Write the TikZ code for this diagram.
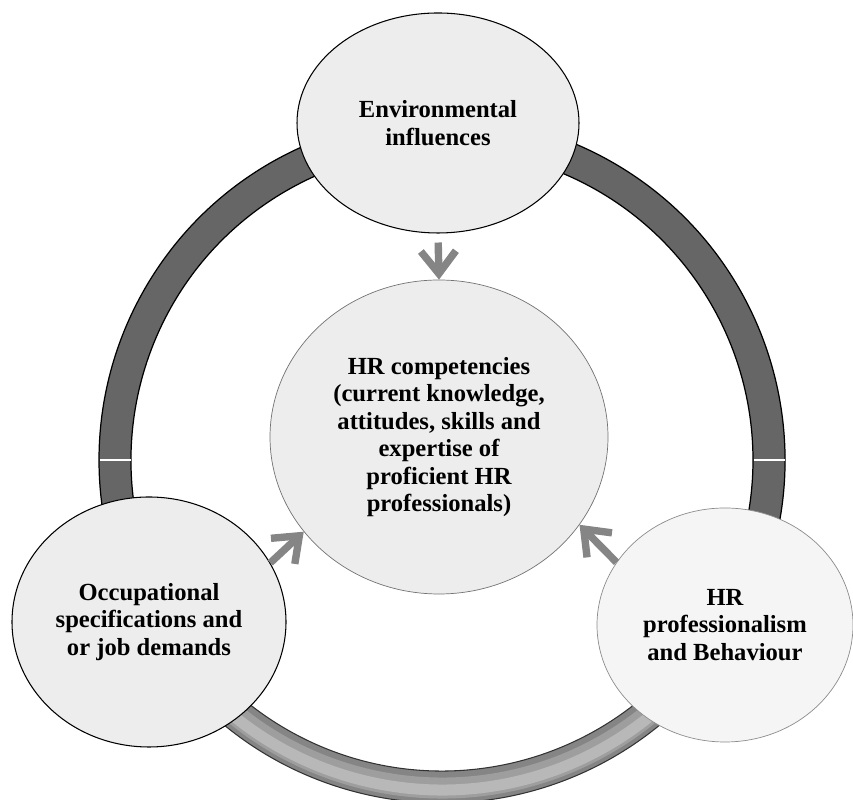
\documentclass[tikz,border=0pt]{standalone}
\usepackage{fontspec}
\setmainfont{Liberation Serif}
\usepackage{tikz}
\usetikzlibrary{
	arrows.meta,
	positioning,
	calc,
	shapes.geometric
}
\usepackage{xcolor}

\begin{document}
\begin{tikzpicture}[
		>=Stealth,
		bubble/.style={
			ellipse,
			draw=black,
			line width=0.6pt,
			fill=black!7,
			inner sep=0pt,
			align=center,
			font=\fontsize{14}{15.6}\selectfont\bfseries
		},
		ringdark/.style={
			fill=black!60,
			draw=black,
			line width=0.7pt
		},
		ringlight/.style={
			fill=black!48,
			draw=black!80,
			line width=0.6pt
		},
		arr/.style={
			-{Straight Barb[length=4.5mm,width=7mm]},
			line width=4.2pt,
			draw=black!48
		}
		]
		
		\useasboundingbox (0,0) rectangle (17.06,16);
		
		% Ring
		\coordinate (c) at (8.84,6.8);
		\path[ringdark] ([shift={(-30:6.86)}]c) arc[start angle=-30,end angle=210,radius=6.86]
		-- ([shift={(210:6.22)}]c) arc[start angle=210,end angle=-30,radius=6.22] -- cycle;
		\path[ringlight] ([shift={(210:6.86)}]c) arc[start angle=210,end angle=330,radius=6.86]
		-- ([shift={(330:6.22)}]c) arc[start angle=330,end angle=210,radius=6.22] -- cycle;
		\draw[black!38,line width=0.42cm] ([shift={(212:6.56)}]c) arc[start angle=212,end angle=328,radius=6.56];
		\draw[black!28,line width=0.22cm] ([shift={(212:6.6)}]c) arc[start angle=212,end angle=328,radius=6.6];
		\draw[white,line width=0.8pt] ([shift={(180:6.23)}]c) -- ([shift={(180:6.85)}]c);
		\draw[white,line width=0.8pt] ([shift={(0:6.23)}]c) -- ([shift={(0:6.85)}]c);
		
		% Circles
		\node[bubble,minimum width=5.64cm,minimum height=4.4cm] (env) at (8.76,13.54)
		{Environmental\\influences};
		\node[bubble,draw=black!55,line width=0.4pt,minimum width=6.76cm,minimum height=6.28cm] (comp) at (8.78,7.26)
		{HR competencies\\(current knowledge,\\attitudes, skills and\\expertise of\\proficient HR\\professionals)};
		\node[bubble,minimum width=5.48cm,minimum height=5.0cm] (occ) at (2.98,3.56)
		{Occupational\\specifications and\\or job demands};
		\node[bubble,draw=black!45,line width=0.4pt,fill=black!4,minimum width=5.12cm,minimum height=4.68cm] (beh) at (14.5,3.5)
		{HR\\professionalism\\and Behaviour};
		
		% Arrows
		\draw[arr,shorten <=0.18cm] (env.south) -- (comp.north);
		\draw[arr] (occ.26) -- (comp.215);
		\draw[arr] (beh.150) -- (comp.-32);
		
	\end{tikzpicture}
\end{document}
